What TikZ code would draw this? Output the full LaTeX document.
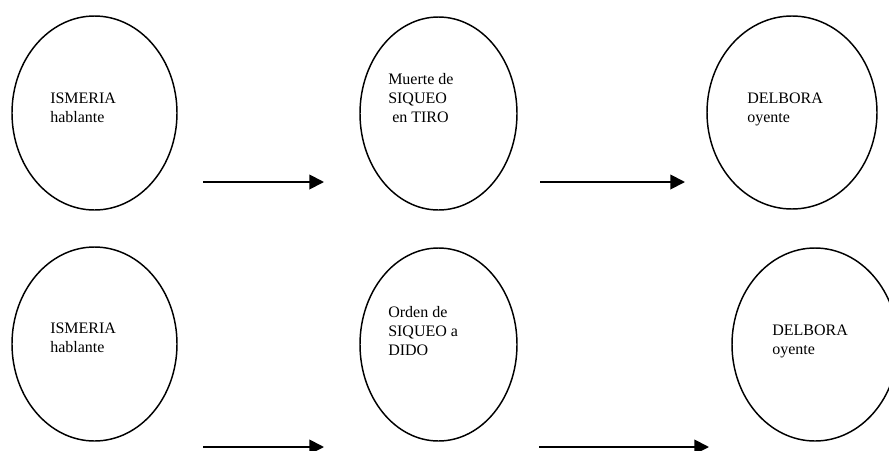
\documentclass[tikz,border=0pt]{standalone}
\usepackage{fontspec}
\setmainfont{Liberation Serif}
\usetikzlibrary{shapes.geometric,arrows.meta}
\begin{document}
\begin{tikzpicture}[x=0.75pt,y=-0.75pt,
  persona/.style={draw,ellipse,line width=1.1pt,inner sep=0pt},
  rotulo/.style={anchor=base west,align=left,inner sep=0pt,
    font=\fontsize{12pt}{13.9pt}\selectfont},
  flecha/.style={line width=1.4pt,-{Triangle[length=11pt,width=11pt]}}]
\useasboundingbox (0,0) rectangle (889,450);
\begin{scope}
\clip (0,0) rectangle (889,450);
% upper row
\node[persona,minimum width=123.75pt,minimum height=145.5pt] (e1) at (94.5,113) {};
\node[persona,minimum width=117.75pt,minimum height=144.75pt] (e2) at (438.5,113.5) {};
\node[persona,minimum width=127.5pt,minimum height=144.75pt] (e3) at (792,112.5) {};
% lower row
\node[persona,minimum width=123.75pt,minimum height=145.5pt] (e4) at (94.5,344) {};
\node[persona,minimum width=117.75pt,minimum height=144.75pt] (e5) at (438.5,344.5) {};
\node[persona,minimum width=124.5pt,minimum height=144.75pt] (e6) at (815,344.5) {};
\end{scope}
% labels (positioned by the baseline of their last line)
\node[rotulo] (t1) at (50,122.5) {ISMERIA\\hablante};
\node[rotulo] (t2) at (388,122) {Muerte de\\SIQUEO\\\ en TIRO};
\node[rotulo] (t3) at (747,122.5) {DELBORA\\oyente};
\node[rotulo] (t4) at (50,352.5) {ISMERIA\\hablante};
\node[rotulo] (t5) at (388,355) {Orden de\\SIQUEO a\\DIDO};
\node[rotulo] (t6) at (772,354) {DELBORA\\oyente};
% arrows
\coordinate (a1s) at (203,182); \coordinate (a1e) at (324,182);
\coordinate (a2s) at (540,182); \coordinate (a2e) at (685,182);
\coordinate (a3s) at (203,447); \coordinate (a3e) at (324,447);
\coordinate (a4s) at (539,447); \coordinate (a4e) at (709,447);
\draw[flecha] (a1s) -- (a1e);
\draw[flecha] (a2s) -- (a2e);
\draw[flecha] (a3s) -- (a3e);
\draw[flecha] (a4s) -- (a4e);
\end{tikzpicture}
\end{document}
